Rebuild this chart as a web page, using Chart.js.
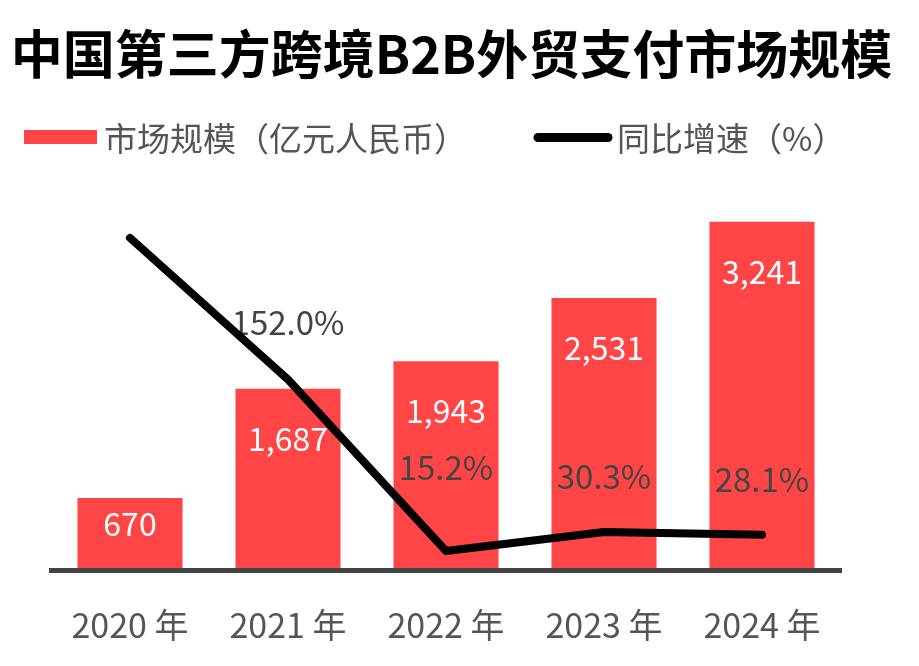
<!DOCTYPE html>
<html>
<head>
<meta charset="utf-8">
<script src="https://cdn.jsdelivr.net/npm/chart.js@4.4.1/dist/chart.umd.min.js"></script>
<style>
html,body{margin:0;padding:0;background:#fff;}
#wrap{width:919px;height:666px;position:relative;}
canvas{display:block;}
</style>
</head>
<body>
<div id="wrap"><canvas id="c" width="919" height="666"></canvas></div>
<script>
// ---- data ----
const chartTitle = '中国第三方跨境B2B外贸支付市场规模';
const categories = ['2020 年', '2021 年', '2022 年', '2023 年', '2024 年'];
const marketSize = [670, 1687, 1943, 2531, 3241];          // 亿元人民币
const growthRate = [265, 152.0, 15.2, 30.3, 28.1];          // %
const seriesNames = ['市场规模（亿元人民币）', '同比增速（%）'];
const barAxisRange = [0, 3500];
const lineAxisRange = [0, 300];

// ---- style ----
const FONT = '"Noto Sans CJK SC", "Noto Sans", sans-serif';
const RED = '#FF4545';
const lineLabelOffsets = [null, 57, 83, 56, 55]; // px above point; null = no label

const labelPlugin = {
  id: 'customLabels',
  beforeDatasetDraw(chart, args) {
    if (args.index !== 1) return;
    const ctx = chart.ctx;
    ctx.save();
    ctx.textAlign = 'center';
    ctx.textBaseline = 'middle';
    // bar value labels
    ctx.font = '32px ' + FONT;
    ctx.fillStyle = '#ffffff';
    chart.getDatasetMeta(0).data.forEach((bar, i) => {
      const y = Math.min(bar.y + 50, bar.base - 46.5);
      ctx.fillText(marketSize[i].toLocaleString('en-US'), bar.x, y);
    });
    // growth labels
    ctx.font = '33px ' + FONT;
    ctx.fillStyle = '#444444';
    chart.getDatasetMeta(1).data.forEach((pt, i) => {
      const off = lineLabelOffsets[i];
      if (off == null) return;
      ctx.fillText(growthRate[i].toFixed(1) + '%', pt.x, pt.y - off);
    });
    ctx.restore();
  },
  afterDraw(chart) {
    const ctx = chart.ctx;
    ctx.save();
    // title
    ctx.font = 'bold 52px ' + FONT;
    ctx.fillStyle = '#000000';
    ctx.textAlign = 'center';
    ctx.textBaseline = 'middle';
    ctx.fillText(chartTitle, 451.5, 54);
    // legend
    ctx.font = '33px ' + FONT;
    ctx.textAlign = 'left';
    ctx.fillStyle = chart.data.datasets[0].backgroundColor;
    ctx.fillRect(24, 130, 73, 14);
    ctx.fillStyle = '#555555';
    ctx.fillText(chart.data.datasets[0].label, 104, 138);
    ctx.strokeStyle = chart.data.datasets[1].borderColor;
    ctx.lineWidth = 9;
    ctx.lineCap = 'round';
    ctx.beginPath();
    ctx.moveTo(538, 137.5);
    ctx.lineTo(608, 137.5);
    ctx.stroke();
    ctx.fillText(chart.data.datasets[1].label, 617, 138);
    ctx.restore();
  }
};

new Chart(document.getElementById('c'), {
  data: {
    labels: categories,
    datasets: [
      {
        type: 'bar',
        label: seriesNames[0],
        data: marketSize,
        backgroundColor: RED,
        barPercentage: 0.665,
        categoryPercentage: 1,
        yAxisID: 'y',
        order: 1
      },
      {
        type: 'line',
        label: seriesNames[1],
        data: growthRate,
        borderColor: '#000000',
        backgroundColor: '#000000',
        borderWidth: 8,
        pointRadius: 0,
        pointHoverRadius: 0,
        tension: 0,
        borderCapStyle: 'round',
        borderJoinStyle: 'round',
        yAxisID: 'y1',
        order: 0
      }
    ]
  },
  options: {
    responsive: false,
    devicePixelRatio: 1,
    animation: false,
    layout: { padding: { top: 194, left: 51, right: 78, bottom: 20 } },
    plugins: {
      legend: { display: false },
      title: { display: false },
      tooltip: { enabled: false }
    },
    scales: {
      x: {
        grid: { display: false, drawTicks: false },
        border: { display: true, color: '#444444', width: 5, z: 1 },
        ticks: { color: '#555555', padding: 35, font: { family: FONT, size: 34, lineHeight: 1.2 } },
        afterFit(scale) { scale.height = 76; }
      },
      y: { display: false, min: barAxisRange[0], max: barAxisRange[1] },
      y1: { display: false, min: lineAxisRange[0], max: lineAxisRange[1] }
    }
  },
  plugins: [labelPlugin]
});
</script>
</body>
</html>
